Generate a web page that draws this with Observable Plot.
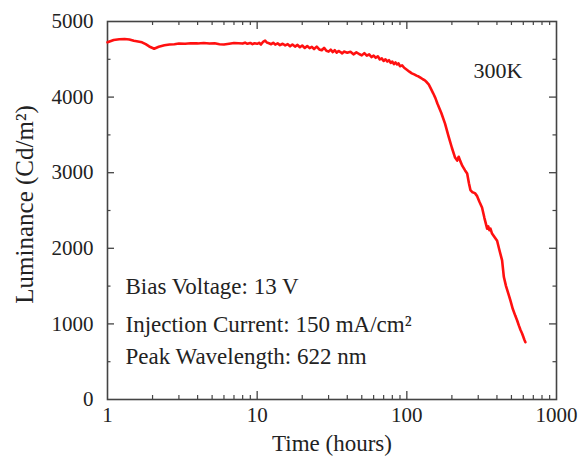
<!DOCTYPE html>
<html>
<head>
<meta charset="utf-8">
<script src="https://cdn.jsdelivr.net/npm/d3@7"></script>
<script src="https://cdn.jsdelivr.net/npm/@observablehq/plot@0.6"></script>
<style>
  html, body { margin: 0; padding: 0; background: #fff; }
  svg { display: block; }
</style>
</head>
<body>
<div id="chart"></div>
<script>
// Time (hours) and luminance (Cd/m^2)
const hours = [1.0,1.1,1.2,1.3,1.4,1.5,1.6,1.7,1.8,1.9,2.0,2.05,2.2,2.4,2.6,2.8,3.0,3.3,3.6,4.0,4.4,4.8,5.2,5.6,6.0,6.5,7.0,7.5,
  8.0,8.3,8.6,9.0,9.3,9.6,10,10.3,10.6,11,11.3,11.6,12,12.4,12.8,13.2,13.7,14.2,14.8,15.4,16,16.6,17.2,17.9,18.6,19.3,20,20.8,21.6,22.4,23.2,24,25,26,27,28,29,30,31,32,33,34,35,36,37,38,40,42,44,46,48,50,52,54,56,58,60,62,64,66,68,70,72,74,76,78,80,82,84,86,88,90,93,96,100,104,108,112,116,120,124,128,132,136,140,145,150,155,160,
  170,180,190,200,210,217,222,228,235,245,253,260,266,275,285,295,305,318,330,344,350,356,362,370,385,401,415,433,445,460,475,492,510,530,546,560,575,589,600,610,620];
const luminance = [4725,4755,4765,4768,4762,4745,4735,4725,4700,4670,4650,4640,4665,4685,4695,4700,4708,4705,4712,4710,4715,4708,4712,4700,4695,4705,4715,4712,
  4708,4720,4705,4716,4700,4712,4705,4718,4695,4735,4748,4722,4712,4700,4718,4695,4710,4688,4706,4684,4700,4672,4695,4668,4690,4660,4682,4650,4676,4648,4664,4636,4668,4630,4620,4652,4612,4602,4628,4596,4620,4588,4610,4596,4578,4602,4588,4600,4566,4592,4570,4552,4582,4548,4566,4530,4548,4520,4540,4498,4512,4478,4500,4470,4488,4452,4470,4436,4458,4432,4446,4408,4420,4388,4362,4336,4314,4300,4284,4272,4254,4236,4222,4196,4168,4108,4050,3990,3915,
  3790,3650,3480,3330,3200,3160,3210,3150,3090,3030,2990,2860,2770,2740,2730,2690,2620,2540,2400,2260,2290,2240,2260,2200,2150,2100,1980,1840,1620,1500,1410,1310,1200,1110,1045,980,920,873,830,790,758];

const xTickLabels = [1, 10, 100, 1000];
const xMajor = [10, 100];
const xMinor = [2,3,4,5,6,7,8,9,20,30,40,50,60,70,80,90,200,300,400,500,600,700,800,900];
const yTickLabels = [0, 1000, 2000, 3000, 4000, 5000];
const yMajor = [1000, 2000, 3000, 4000];
const yMinor = [500, 1500, 2500, 3500, 4500];

const xLabel = "Time (hours)";
const yLabel = "Luminance (Cd/m²)";
const tempLabel = "300K";
const noteBias = "Bias Voltage: 13 V";
const noteCurrent = "Injection Current: 150 mA/cm²";
const noteWave = "Peak Wavelength: 622 nm";

const n = Math.min(hours.length, luminance.length);
const data = hours.slice(0, n).map((t, i) => ({t, L: luminance[i]}));

const W = 581, H = 461, mL = 107, mR = 25, mT = 21, mB = 62;
const fw = W - mL - mR, fh = H - mT - mB;
const font = "Liberation Serif, Times New Roman, serif";
const axisColor = "#444";
const ink = "#222";

const chart = Plot.plot({
  width: W, height: H,
  marginLeft: mL, marginRight: mR, marginTop: mT, marginBottom: mB,
  x: {type: "log", domain: [1, 1000], axis: null},
  y: {domain: [0, 5000], axis: null},
  style: {fontFamily: font, background: "#fff", color: ink},
  marks: [
    // inward ticks (bottom/top, left/right)
    Plot.tickX(xMajor, {x: d => d, insetTop: fh - 8, stroke: axisColor, strokeWidth: 1.3}),
    Plot.tickX(xMajor, {x: d => d, insetBottom: fh - 8, stroke: axisColor, strokeWidth: 1.3}),
    Plot.tickX(xMinor, {x: d => d, insetTop: fh - 4, stroke: axisColor, strokeWidth: 1.2}),
    Plot.tickX(xMinor, {x: d => d, insetBottom: fh - 4, stroke: axisColor, strokeWidth: 1.2}),
    Plot.tickY(yMajor, {y: d => d, insetRight: fw - 7, stroke: axisColor, strokeWidth: 1.3}),
    Plot.tickY(yMajor, {y: d => d, insetLeft: fw - 7, stroke: axisColor, strokeWidth: 1.3}),
    Plot.tickY(yMinor, {y: d => d, insetRight: fw - 3.5, stroke: axisColor, strokeWidth: 1.2}),
    Plot.tickY(yMinor, {y: d => d, insetLeft: fw - 3.5, stroke: axisColor, strokeWidth: 1.2}),
    Plot.frame({stroke: axisColor, strokeWidth: 1.6}),
    // data
    Plot.line(data, {x: "t", y: "L", stroke: "#ff1010", strokeWidth: 2.6, strokeLinejoin: "round"}),
    // tick labels
    Plot.text(xTickLabels, {x: d => d, frameAnchor: "bottom", dy: 22, textAnchor: "middle", text: d => String(d), fontSize: 21, fill: ink}),
    Plot.text(yTickLabels, {y: d => d, frameAnchor: "left", dx: -14, textAnchor: "end", text: d => String(d), fontSize: 21, fill: ink}),
    // axis labels
    Plot.text([xLabel], {frameAnchor: "bottom", dy: 51, textAnchor: "middle", fontSize: 23, fill: ink}),
    Plot.text([yLabel], {frameAnchor: "left", dx: -83, dy: -6, textAnchor: "middle", rotate: -90, fontSize: 25, fill: ink}),
    // annotations
    Plot.text([tempLabel], {frameAnchor: "top-right", dx: -34, dy: 41, textAnchor: "end", fontSize: 22, fill: ink}),
    Plot.text([noteBias], {frameAnchor: "top-left", dx: 18, dy: 256, textAnchor: "start", fontSize: 23, fill: ink}),
    Plot.text([noteCurrent], {frameAnchor: "top-left", dx: 18, dy: 294, textAnchor: "start", fontSize: 23, fill: ink}),
    Plot.text([noteWave], {frameAnchor: "top-left", dx: 18, dy: 326, textAnchor: "start", fontSize: 23, fill: ink})
  ]
});

document.getElementById("chart").appendChild(chart);
</script>
</body>
</html>
